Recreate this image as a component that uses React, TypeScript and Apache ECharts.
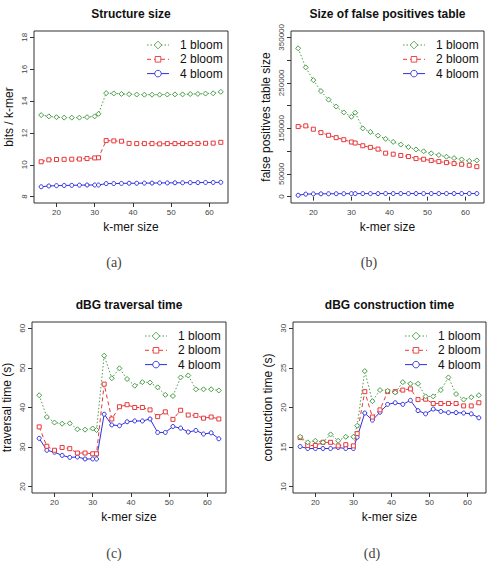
import React, { useEffect, useRef } from "react";
import * as echarts from "echarts";

// k-mer sizes shared by every panel
const kmer = [16, 18, 20, 22, 24, 26, 28, 30, 31, 33, 35, 37, 39, 41, 43, 45, 47, 49, 51, 53, 55, 57, 59, 61, 63];

// (a) Structure size, bits / k-mer
const size1 = [13.12, 13.04, 12.99, 12.96, 12.96, 12.96, 12.99, 13.04, 13.2, 14.5, 14.48, 14.45, 14.43, 14.41, 14.4, 14.4, 14.4, 14.41, 14.42, 14.42, 14.44, 14.45, 14.47, 14.49, 14.58];
const size2 = [10.19, 10.31, 10.33, 10.34, 10.35, 10.36, 10.39, 10.43, 10.44, 11.52, 11.5, 11.48, 11.34, 11.33, 11.33, 11.33, 11.31, 11.33, 11.33, 11.33, 11.33, 11.34, 11.35, 11.36, 11.41];
const size4 = [8.62, 8.67, 8.69, 8.7, 8.71, 8.72, 8.73, 8.73, 8.73, 8.82, 8.82, 8.83, 8.84, 8.84, 8.85, 8.85, 8.86, 8.86, 8.87, 8.87, 8.88, 8.88, 8.89, 8.89, 8.9];

// (b) Size of false positives table
const fp1 = [326000, 284000, 256000, 232000, 213000, 198000, 185000, 175500, 184400, 150000, 142200, 134000, 127000, 120300, 114400, 108900, 103700, 99600, 95100, 91400, 87700, 84700, 81800, 78500, 79600];
const fp2 = [154000, 155500, 148200, 140700, 134800, 129600, 125100, 120000, 117800, 111800, 108200, 104400, 95500, 93300, 90400, 88100, 83600, 82200, 79300, 77000, 74800, 72600, 71100, 68900, 65900];
const fp4 = [3000, 5500, 6000, 6200, 6300, 6400, 6500, 6600, 6600, 6700, 6700, 6700, 6800, 6800, 6800, 6800, 6800, 6800, 6800, 6800, 6800, 6800, 6800, 6800, 6800];

// (c) dBG traversal time (s)
const trav1 = [43.1, 37.6, 36.2, 35.9, 36.0, 34.5, 34.4, 34.7, 34.3, 53.1, 47.4, 49.9, 47.2, 45.5, 46.4, 46.3, 45.1, 43.2, 42.9, 47.6, 48.1, 44.6, 44.6, 44.6, 44.3];
const trav2 = [35.1, 30.2, 29.2, 29.9, 29.6, 28.5, 28.5, 28.3, 28.3, 45.9, 37.1, 40.2, 40.7, 40.0, 40.0, 39.4, 37.7, 38.9, 37.0, 39.3, 38.1, 38.0, 37.3, 37.6, 37.1];
const trav4 = [32.2, 29.2, 28.7, 27.9, 27.4, 27.5, 27.0, 27.0, 27.0, 38.3, 35.6, 35.4, 36.4, 36.6, 36.6, 37.1, 33.7, 33.7, 35.2, 34.8, 33.8, 34.2, 33.3, 33.6, 32.1];

// (d) dBG construction time (s)
const cons1 = [16.3, 15.6, 15.8, 15.6, 16.6, 15.8, 16.3, 16.3, 17.7, 24.6, 20.8, 22.2, 22.1, 21.9, 23.2, 23.0, 23.0, 21.4, 21.4, 22.2, 23.8, 21.7, 21.0, 21.3, 21.55];
const cons2 = [16.2, 15.2, 15.2, 15.6, 15.6, 15.15, 15.3, 15.15, 16.7, 22.0, 18.8, 19.7, 22.0, 22.0, 22.2, 22.35, 21.0, 21.05, 20.5, 20.5, 20.5, 20.5, 20.2, 20.2, 20.6];
const cons4 = [15.07, 14.82, 14.82, 14.82, 14.82, 14.95, 14.82, 14.82, 16.25, 19.3, 18.4, 19.4, 20.4, 20.6, 20.4, 20.9, 19.6, 19.2, 19.8, 19.5, 19.35, 19.35, 19.3, 19.2, 18.7];

// tick labels
const xTicks = [20, 30, 40, 50, 60];
const sizeTicks = [8, 10, 12, 14, 16, 18];
const fpTicks = [0, 50000, 100000, 150000, 200000, 250000, 300000, 350000];
const fpLabels = [0, 50000, 150000, 250000, 350000];
const travTicks = [20, 30, 40, 50, 60];
const consTicks = [10, 15, 20, 25, 30];

const seriesNames = ["1 bloom", "2 bloom", "4 bloom"];
const seriesColors = ["#4a9e4a", "#e8383a", "#3030e0"];
const lineTypes: any[] = [[1.5, 2], [4, 3], "solid"];
const symbols = ["diamond", "rect", "circle"];
const symbolSizes = [5, 4, 4];

const FONT = "Liberation Sans, Arial, Helvetica, sans-serif";
const INK = "#333";

type Panel = {
  title: string;
  yName: string;
  box: [number, number, number, number]; // left, top, right, bottom
  yMin: number;
  yMax: number;
  yTicks: number[];
  yLabels: number[];
  values: number[][];
  caption: string;
  captionX: number;
  captionY: number;
};

const panels: Panel[] = [
  {
    title: "Structure size",
    yName: "bits / k-mer",
    box: [34, 31, 228, 203],
    yMin: 7.6,
    yMax: 18.4,
    yTicks: sizeTicks,
    yLabels: sizeTicks,
    values: [size1, size2, size4],
    caption: "(a)",
    captionX: 114,
    captionY: 262,
  },
  {
    title: "Size of false positives table",
    yName: "false positives table size",
    box: [291, 31, 484, 203],
    yMin: -14000,
    yMax: 364000,
    yTicks: fpTicks,
    yLabels: fpLabels,
    values: [fp1, fp2, fp4],
    caption: "(b)",
    captionX: 369,
    captionY: 262,
  },
  {
    title: "dBG traversal time",
    yName: "traversal time (s)",
    box: [32, 322, 226, 493],
    yMin: 18.4,
    yMax: 61.6,
    yTicks: travTicks,
    yLabels: travTicks,
    values: [trav1, trav2, trav4],
    caption: "(c)",
    captionX: 114,
    captionY: 553,
  },
  {
    title: "dBG construction time",
    yName: "construction time (s)",
    box: [293, 322, 486, 493],
    yMin: 9.2,
    yMax: 30.8,
    yTicks: consTicks,
    yLabels: consTicks,
    values: [cons1, cons2, cons4],
    caption: "(d)",
    captionX: 372,
    captionY: 553,
  },
];

// R-style default range: data range extended by 4% on each side
const xMin = 16 - 0.04 * (63 - 16);
const xMax = 63 + 0.04 * (63 - 16);

function legendGraphics(p: Panel) {
  const [, top, right] = p.box;
  const textLeft = right - 48;
  const lineLeft = textLeft - 33;
  const lineRight = textLeft - 11;
  const cx = (lineLeft + lineRight) / 2;
  const items: any[] = [];
  seriesNames.forEach((name, i) => {
    const y = top + 14 + i * 14.3;
    const c = seriesColors[i];
    items.push({
      type: "line",
      shape: { x1: lineLeft, y1: y, x2: lineRight, y2: y },
      style: { stroke: c, lineWidth: 1, lineDash: Array.isArray(lineTypes[i]) ? lineTypes[i] : null },
    });
    if (i === 0) {
      items.push({
        type: "polygon",
        shape: { points: [[cx, y - 3.8], [cx + 3.8, y], [cx, y + 3.8], [cx - 3.8, y]] },
        style: { stroke: c, fill: "#fff", lineWidth: 0.9 },
      });
    } else if (i === 1) {
      items.push({
        type: "rect",
        shape: { x: cx - 2.8, y: y - 2.8, width: 5.6, height: 5.6 },
        style: { stroke: c, fill: "#fff", lineWidth: 0.9 },
      });
    } else {
      items.push({
        type: "circle",
        shape: { cx, cy: y, r: 3.3 },
        style: { stroke: c, fill: "#fff", lineWidth: 0.9 },
      });
    }
    items.push({
      type: "text",
      x: textLeft,
      y,
      style: { text: name, fill: "#111", font: `12px ${FONT}`, textAlign: "left", textVerticalAlign: "middle" },
    });
  });
  return items;
}

export default function App() {
  const ref = useRef<HTMLDivElement>(null);

  useEffect(() => {
    if (!ref.current) return;
    const chart = echarts.init(ref.current, undefined, { renderer: "svg" });

    const grid = panels.map((p) => ({
      left: p.box[0],
      top: p.box[1],
      width: p.box[2] - p.box[0],
      height: p.box[3] - p.box[1],
      show: true,
      borderColor: INK,
      borderWidth: 1,
      backgroundColor: "transparent",
    }));

    const xAxis = panels.map((p, i) => ({
      type: "value",
      gridIndex: i,
      min: xMin,
      max: xMax,
      name: "k-mer size",
      nameLocation: "middle",
      nameGap: 18,
      nameTextStyle: { fontFamily: FONT, fontSize: 12, color: "#111" },
      axisLine: { show: false },
      axisTick: { show: true, length: 4, lineStyle: { color: INK }, customValues: xTicks },
      axisLabel: { fontFamily: FONT, fontSize: 8, color: "#444", margin: 5, customValues: xTicks },
      splitLine: { show: false },
    }));

    const yAxis = panels.map((p, i) => ({
      type: "value",
      gridIndex: i,
      min: p.yMin,
      max: p.yMax,
      name: p.yName,
      nameLocation: "middle",
      nameGap: 19,
      nameTextStyle: { fontFamily: FONT, fontSize: 12, color: "#111" },
      axisLine: { show: false },
      axisTick: { show: true, length: 4, lineStyle: { color: INK }, customValues: p.yTicks },
      axisLabel: {
        fontFamily: FONT,
        fontSize: 8,
        color: "#444",
        margin: 6,
        rotate: 90,
        customValues: p.yLabels,
        formatter: (v: number) => String(v),
      },
      splitLine: { show: false },
    }));

    const series: any[] = [];
    panels.forEach((p, gi) => {
      p.values.forEach((vals, si) => {
        series.push({
          type: "line",
          name: seriesNames[si],
          xAxisIndex: gi,
          yAxisIndex: gi,
          data: kmer.map((k, j) => [k, vals[j]]),
          symbol: symbols[si],
          symbolSize: symbolSizes[si],
          showAllSymbol: true,
          itemStyle: { color: "#fff", borderColor: seriesColors[si], borderWidth: 1 },
          lineStyle: { color: seriesColors[si], width: 1, type: lineTypes[si] },
          z: 3 - si,
        });
      });
    });

    const graphic: any[] = [];
    panels.forEach((p) => {
      graphic.push({
        type: "text",
        x: (p.box[0] + p.box[2]) / 2,
        y: p.box[1] - 17,
        style: {
          text: p.title,
          fill: "#111",
          font: `bold 12px ${FONT}`,
          textAlign: "center",
          textVerticalAlign: "middle",
        },
      });
      graphic.push({
        type: "text",
        x: p.captionX,
        y: p.captionY,
        style: {
          text: p.caption,
          fill: "#444",
          font: `14px "Liberation Serif", "DejaVu Serif", serif`,
          textAlign: "center",
          textVerticalAlign: "middle",
        },
      });
      legendGraphics(p).forEach((g) => graphic.push(g));
    });

    chart.setOption({
      animation: false,
      backgroundColor: "#fff",
      grid,
      xAxis,
      yAxis,
      series,
      graphic,
    });

    return () => chart.dispose();
  }, []);

  return (
    <div
      ref={ref}
      style={{ position: "absolute", left: 0, top: 0, width: 487, height: 565, background: "#fff" }}
    />
  );
}
